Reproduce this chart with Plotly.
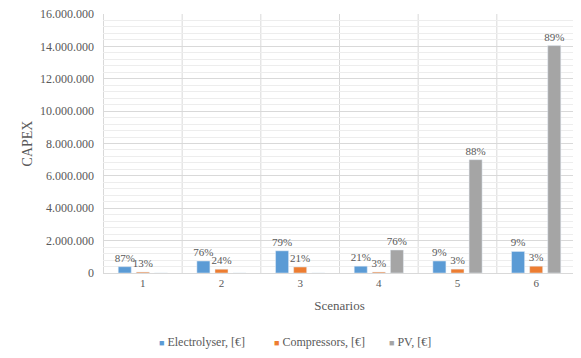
import plotly.graph_objects as go

scenarios = ["1", "2", "3", "4", "5", "6"]
electrolyser = [390000, 740000, 1370000, 420000, 740000, 1330000]
compressors = [58000, 234000, 370000, 60000, 240000, 420000]
pv = [0, 0, 0, 1420000, 7000000, 14050000]
elec_labels = ["87%", "76%", "79%", "21%", "9%", "9%"]
comp_labels = ["13%", "24%", "21%", "3%", "3%", "3%"]
pv_labels = ["", "", "", "76%", "88%", "89%"]
series_names = ["Electrolyser, [€]", "Compressors, [€]", "PV, [€]"]
series_colors = ["#5B9BD5", "#ED7D31", "#A5A5A5"]

font_family = "Liberation Serif, Times New Roman, DejaVu Serif, serif"
text_color = "#595959"

# figure geometry (page has an 8px body margin)
W, H = 573, 350
ML, MR, MT, MB = 95, 5, 6, 85
PW = W - ML - MR
PH = H - MT - MB

fig = go.Figure()
for name, vals, labels, color in zip(series_names,
                                     [electrolyser, compressors, pv],
                                     [elec_labels, comp_labels, pv_labels],
                                     series_colors):
    fig.add_trace(go.Bar(
        x=scenarios, y=vals, name=name, marker_color=color,
        text=labels, textposition="outside", cliponaxis=False,
        constraintext="none", showlegend=False,
        textfont=dict(size=11, color=text_color, family=font_family),
    ))

fig.update_layout(
    width=W, height=H,
    margin=dict(l=ML, r=MR, t=MT, b=MB, autoexpand=False),
    paper_bgcolor="white", plot_bgcolor="white",
    separators=",.",
    barmode="group", bargap=0.31, bargroupgap=0.28,
    uniformtext=dict(minsize=11, mode="show"),
    font=dict(family=font_family, color=text_color, size=11),
    xaxis=dict(
        title=dict(text="Scenarios", font=dict(size=13, color=text_color), standoff=12),
        showgrid=False, showline=True, linecolor="#D9D9D9",
        tickfont=dict(size=11, color=text_color), ticks="",
    ),
    yaxis=dict(
        title=dict(text="CAPEX", font=dict(size=14, color=text_color), standoff=4),
        range=[0, 16000000], dtick=2000000, tickformat=",d",
        showgrid=True, gridcolor="#D9D9D9", gridwidth=1,
        minor=dict(dtick=400000, showgrid=True, gridcolor="#EDEDED", gridwidth=1),
        showline=False, zeroline=False, ticks="",
        ticklabeloverflow="allow", ticklabelstandoff=8,
        tickfont=dict(size=12, color=text_color),
    ),
)

# vertical category separators
for i in range(len(scenarios) + 1):
    fig.add_shape(type="line", xref="x", yref="paper", x0=i - 0.5, x1=i - 0.5,
                  y0=0, y1=1, line=dict(color="#D9D9D9", width=1), layer="below")

# legend drawn as text entries (page pixel x positions of square markers)
legend_px = [157, 272, 387]
legend_y_page = 342
for px, name, color in zip(legend_px, series_names, series_colors):
    fx = px - 8
    fig.add_annotation(
        xref="paper", yref="paper",
        x=(fx - ML) / PW, y=(H - MB - (legend_y_page - 8)) / PH,
        xanchor="left", yanchor="middle", showarrow=False,
        text=f"<span style='color:{color};font-size:9px'>■</span> {name}",
        font=dict(size=12, color=text_color, family=font_family),
    )

fig.write_html("out.html")
